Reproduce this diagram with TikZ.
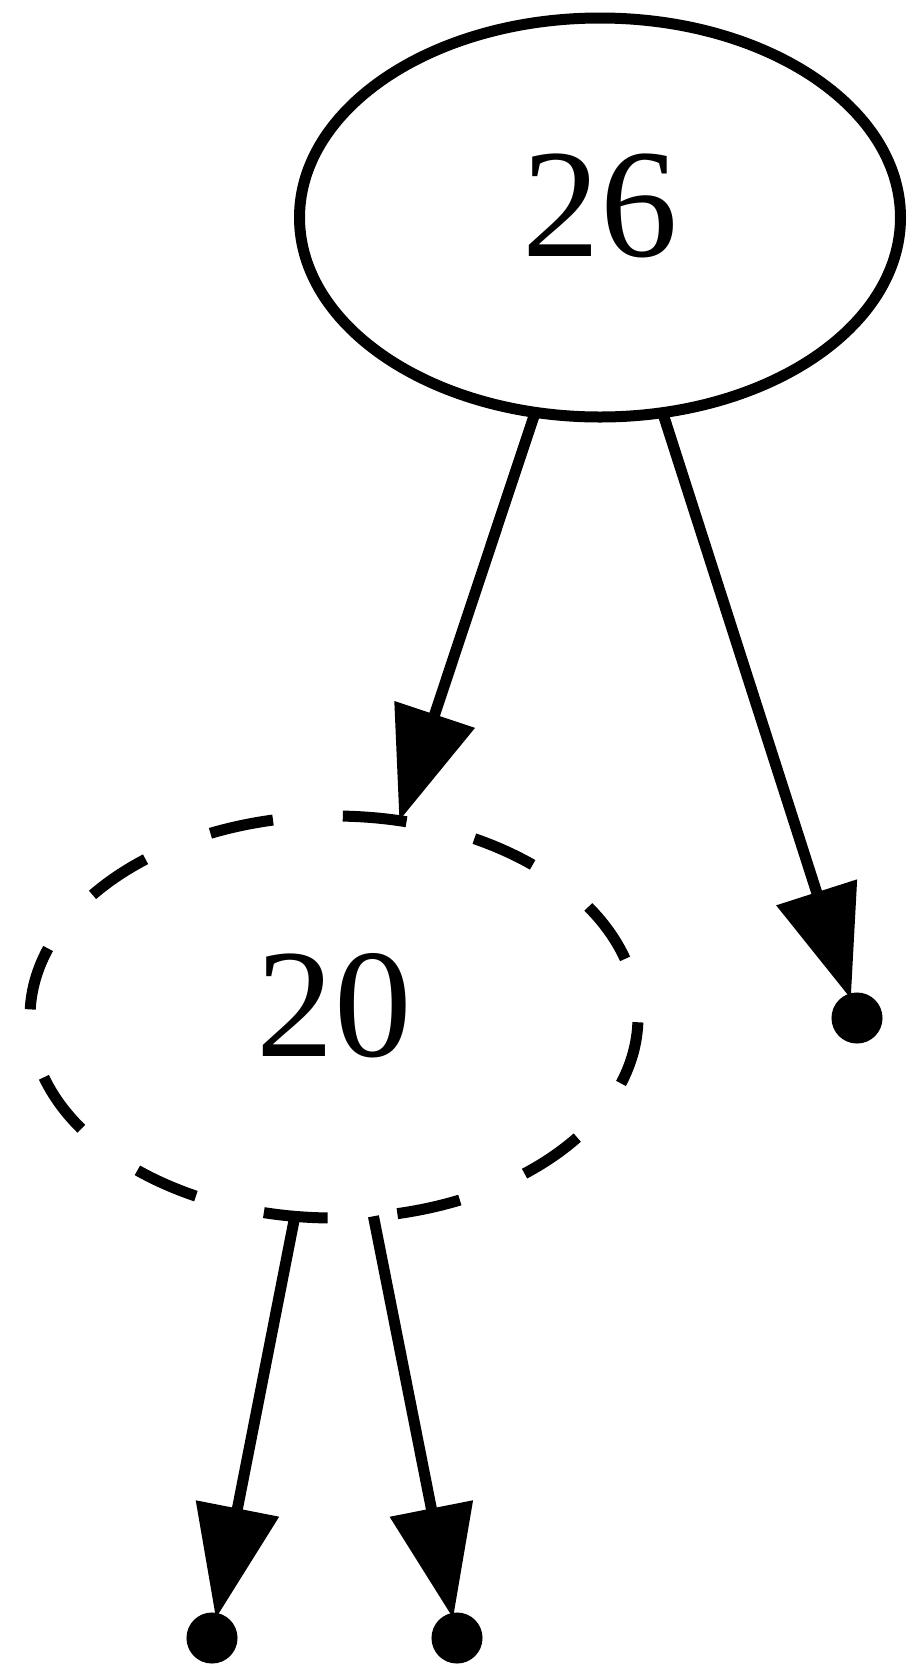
\documentclass[tikz,border=0pt]{standalone}
\usepackage{fontspec}
\setmainfont{Liberation Serif}
\usetikzlibrary{arrows.meta,shapes.geometric}
\tikzset{
  treenode/.style={ellipse, draw, line width=11pt, inner sep=0pt, outer sep=0pt,
    font=\fontsize{155}{160}\selectfont, text depth=24pt},
  solidnode/.style={treenode, minimum width=601pt, minimum height=399pt},
  dashnode/.style={treenode, minimum width=608pt, minimum height=402pt,
    dash pattern=on 64pt off 70pt, dash phase=74pt},
  leafdot/.style={circle, draw, fill, line width=11pt, minimum size=40pt, inner sep=0pt, outer sep=0pt},
  treeedge/.style={line width=11pt, -{Triangle[length=112pt,width=82pt]}}
}
\begin{document}
\begin{tikzpicture}[x=1pt,y=-1pt]
\useasboundingbox (0,0) rectangle (911,1666);
\node[solidnode] (n26) at (600,217.5) {26};
\node[dashnode] (n20) at (334,1017) {20};
\node[leafdot] (r) at (857,1018) {};
\node[leafdot] (l1) at (212,1638) {};
\node[leafdot] (l2) at (457,1638) {};
\draw[treeedge] (n26) -- (n20);
\draw[treeedge] (n26) -- (r);
\draw[treeedge] (n20) -- (l1);
\draw[treeedge] (n20) -- (l2);
\end{tikzpicture}
\end{document}
